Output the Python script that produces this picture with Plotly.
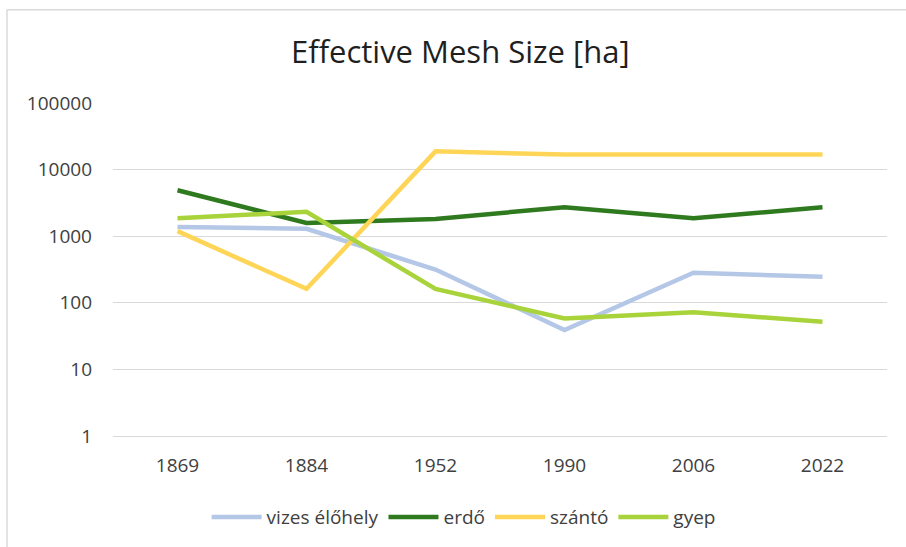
import plotly.graph_objects as go

# Survey years (category axis)
years = ["1869", "1884", "1952", "1990", "2006", "2022"]

# Effective mesh size [ha] per land-cover class
vizes_elohely = [1380, 1290, 316, 39, 282, 246]
erdo = [4900, 1585, 1820, 2720, 1860, 2720]
szanto = [1190, 162, 18800, 16800, 16800, 16900]
gyep = [1860, 2320, 162, 58, 72, 52]

y_ticks = [1, 10, 100, 1000, 10000, 100000]

series = [
    ("vizes élőhely", vizes_elohely, "#B4C7E7"),
    ("erdő", erdo, "#2F7A1F"),
    ("szántó", szanto, "#FFD557"),
    ("gyep", gyep, "#A8D33A"),
]

FONT = "Open Sans"
TEXT = "#404040"

fig = go.Figure()
for name, values, color in series:
    fig.add_trace(go.Scatter(
        x=years, y=values, name=name, mode="lines",
        line=dict(color=color, width=4.5),
    ))

fig.update_layout(
    width=906, height=547,
    margin=dict(l=113, r=19, t=103, b=110),
    paper_bgcolor="white", plot_bgcolor="white",
    font=dict(family=FONT, color=TEXT, size=19),
    title=dict(
        text="Effective Mesh Size [ha]",
        x=0.508, xanchor="center", xref="container",
        y=0.905, yanchor="middle", yref="container",
        font=dict(family=FONT, size=31, color="#1f1f1f"),
    ),
    showlegend=True,
    legend=dict(
        orientation="h", x=0.453, xanchor="center",
        y=-0.24, yanchor="middle",
        font=dict(family=FONT, size=19, color=TEXT),
        itemwidth=50, tracegroupgap=0,
    ),
    xaxis=dict(
        type="category", range=[-0.5, 5.5], showgrid=False, zeroline=False,
        showline=True, linecolor="#D9D9D9", linewidth=1.3,
        ticks="", ticklabelstandoff=12,
        tickfont=dict(family=FONT, size=19, color=TEXT),
    ),
    yaxis=dict(
        type="log", range=[0, 5],
        tickvals=y_ticks, ticktext=[str(v) for v in y_ticks],
        showgrid=True, gridcolor="#D9D9D9", gridwidth=1.3,
        zeroline=False, showline=False, ticks="",
        ticklabelstandoff=20,
        tickfont=dict(family=FONT, size=19, color=TEXT),
    ),
    shapes=[
        # chart-area frame
        dict(type="line", xref="paper", yref="paper",
             x0=-0.137, x1=1.1, y0=1.28, y1=1.28,
             line=dict(color="#D9D9D9", width=1.5)),
        dict(type="line", xref="paper", yref="paper",
             x0=-0.137, x1=-0.137, y0=1.28, y1=-0.4,
             line=dict(color="#D9D9D9", width=1.5)),
    ],
)

fig.write_html("out.html")
